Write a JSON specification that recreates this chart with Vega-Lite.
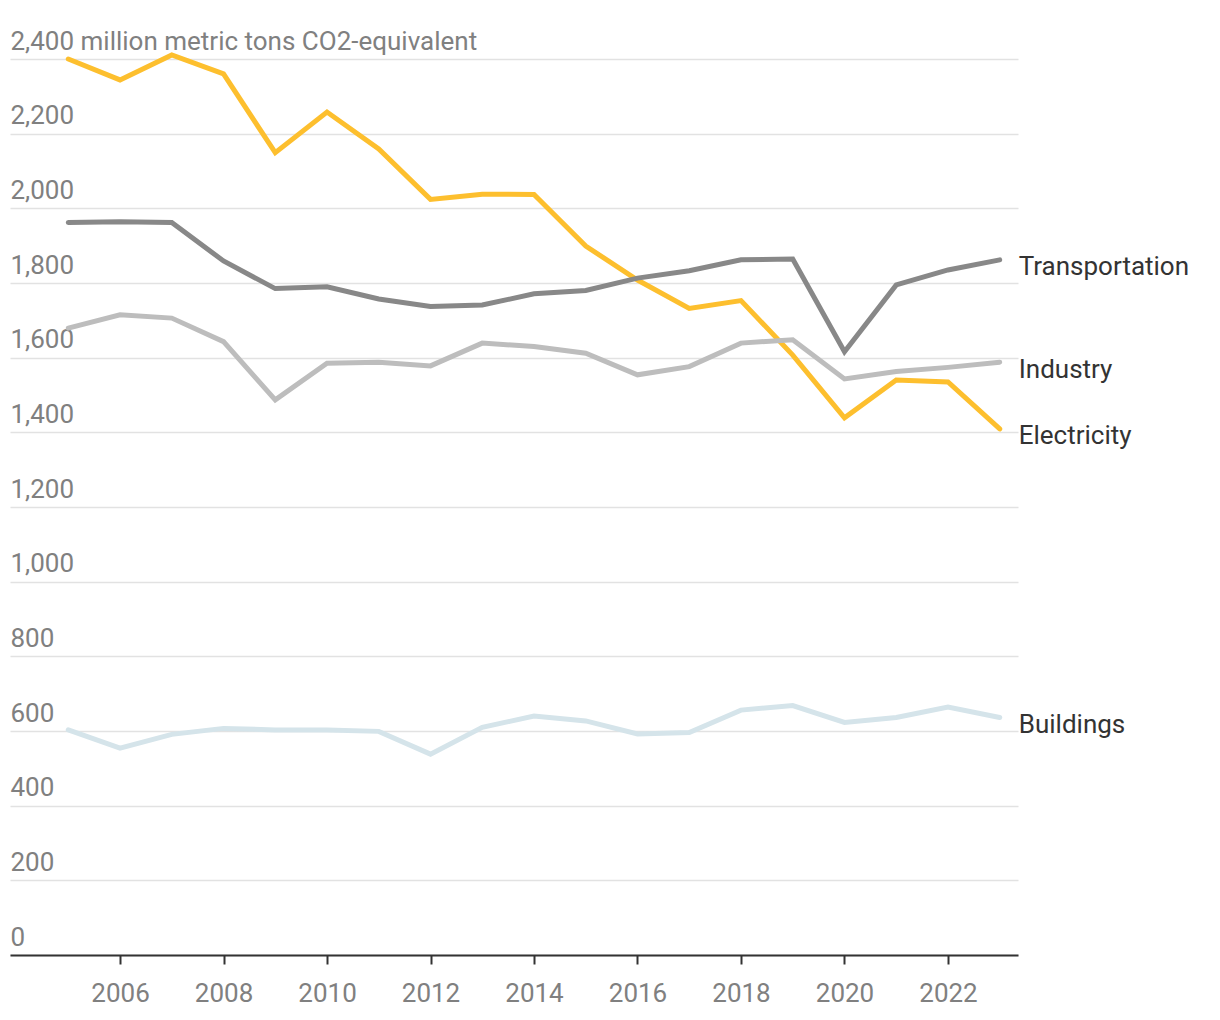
{
  "$schema": "https://vega.github.io/schema/vega-lite/v6.json",
  "autosize": {"type": "none"},
  "width": 1008,
  "height": 896,
  "padding": {"left": 10, "top": 59, "right": 202, "bottom": 65},
  "background": "white",
  "config": {"view": {"stroke": null}, "font": "Roboto"},
  "data": {"values": [
    {"year": 2005, "sector": "Electricity", "value": 2400},
    {"year": 2006, "sector": "Electricity", "value": 2344},
    {"year": 2007, "sector": "Electricity", "value": 2411},
    {"year": 2008, "sector": "Electricity", "value": 2360},
    {"year": 2009, "sector": "Electricity", "value": 2149},
    {"year": 2010, "sector": "Electricity", "value": 2258},
    {"year": 2011, "sector": "Electricity", "value": 2159},
    {"year": 2012, "sector": "Electricity", "value": 2024},
    {"year": 2013, "sector": "Electricity", "value": 2038},
    {"year": 2014, "sector": "Electricity", "value": 2037},
    {"year": 2015, "sector": "Electricity", "value": 1899},
    {"year": 2016, "sector": "Electricity", "value": 1808},
    {"year": 2017, "sector": "Electricity", "value": 1732},
    {"year": 2018, "sector": "Electricity", "value": 1753},
    {"year": 2019, "sector": "Electricity", "value": 1607},
    {"year": 2020, "sector": "Electricity", "value": 1439},
    {"year": 2021, "sector": "Electricity", "value": 1540},
    {"year": 2022, "sector": "Electricity", "value": 1535},
    {"year": 2023, "sector": "Electricity", "value": 1409},
    {"year": 2005, "sector": "Transportation", "value": 1962},
    {"year": 2006, "sector": "Transportation", "value": 1964},
    {"year": 2007, "sector": "Transportation", "value": 1962},
    {"year": 2008, "sector": "Transportation", "value": 1859},
    {"year": 2009, "sector": "Transportation", "value": 1785},
    {"year": 2010, "sector": "Transportation", "value": 1790},
    {"year": 2011, "sector": "Transportation", "value": 1757},
    {"year": 2012, "sector": "Transportation", "value": 1737},
    {"year": 2013, "sector": "Transportation", "value": 1741},
    {"year": 2014, "sector": "Transportation", "value": 1771},
    {"year": 2015, "sector": "Transportation", "value": 1780},
    {"year": 2016, "sector": "Transportation", "value": 1813},
    {"year": 2017, "sector": "Transportation", "value": 1833},
    {"year": 2018, "sector": "Transportation", "value": 1862},
    {"year": 2019, "sector": "Transportation", "value": 1864},
    {"year": 2020, "sector": "Transportation", "value": 1616},
    {"year": 2021, "sector": "Transportation", "value": 1795},
    {"year": 2022, "sector": "Transportation", "value": 1835},
    {"year": 2023, "sector": "Transportation", "value": 1862},
    {"year": 2005, "sector": "Industry", "value": 1679},
    {"year": 2006, "sector": "Industry", "value": 1715},
    {"year": 2007, "sector": "Industry", "value": 1706},
    {"year": 2008, "sector": "Industry", "value": 1643},
    {"year": 2009, "sector": "Industry", "value": 1487},
    {"year": 2010, "sector": "Industry", "value": 1585},
    {"year": 2011, "sector": "Industry", "value": 1588},
    {"year": 2012, "sector": "Industry", "value": 1578},
    {"year": 2013, "sector": "Industry", "value": 1639},
    {"year": 2014, "sector": "Industry", "value": 1630},
    {"year": 2015, "sector": "Industry", "value": 1612},
    {"year": 2016, "sector": "Industry", "value": 1554},
    {"year": 2017, "sector": "Industry", "value": 1576},
    {"year": 2018, "sector": "Industry", "value": 1639},
    {"year": 2019, "sector": "Industry", "value": 1648},
    {"year": 2020, "sector": "Industry", "value": 1543},
    {"year": 2021, "sector": "Industry", "value": 1563},
    {"year": 2022, "sector": "Industry", "value": 1574},
    {"year": 2023, "sector": "Industry", "value": 1588},
    {"year": 2005, "sector": "Buildings", "value": 603},
    {"year": 2006, "sector": "Buildings", "value": 554},
    {"year": 2007, "sector": "Buildings", "value": 591},
    {"year": 2008, "sector": "Buildings", "value": 607},
    {"year": 2009, "sector": "Buildings", "value": 603},
    {"year": 2010, "sector": "Buildings", "value": 603},
    {"year": 2011, "sector": "Buildings", "value": 599},
    {"year": 2012, "sector": "Buildings", "value": 538},
    {"year": 2013, "sector": "Buildings", "value": 610},
    {"year": 2014, "sector": "Buildings", "value": 640},
    {"year": 2015, "sector": "Buildings", "value": 627},
    {"year": 2016, "sector": "Buildings", "value": 592},
    {"year": 2017, "sector": "Buildings", "value": 596},
    {"year": 2018, "sector": "Buildings", "value": 656},
    {"year": 2019, "sector": "Buildings", "value": 668},
    {"year": 2020, "sector": "Buildings", "value": 623},
    {"year": 2021, "sector": "Buildings", "value": 636},
    {"year": 2022, "sector": "Buildings", "value": 664},
    {"year": 2023, "sector": "Buildings", "value": 636}
  ]},
  "encoding": {
    "x": {
      "field": "year", "type": "quantitative",
      "scale": {"domain": [2003.874, 2023.353], "nice": false, "zero": false},
      "axis": {
        "title": null,
        "values": [2006, 2008, 2010, 2012, 2014, 2016, 2018, 2020, 2022],
        "format": "d",
        "grid": false,
        "domainColor": "#333333", "domainWidth": 2,
        "tickColor": "#333333", "tickWidth": 2, "tickSize": 9,
        "labelFont": "Roboto", "labelFontSize": 26, "labelColor": "#808080",
        "labelPadding": 16
      }
    },
    "y": {
      "field": "value", "type": "quantitative",
      "scale": {"domain": [0, 2400], "nice": false},
      "axis": {
        "title": null,
        "values": [0, 200, 400, 600, 800, 1000, 1200, 1400, 1600, 1800, 2000, 2200, 2400],
        "labelExpr": "datum.value == 2400 ? datum.label + ' million metric tons CO2-equivalent' : datum.label",
        "domain": false, "ticks": false, "tickSize": 0,
        "grid": true, "gridColor": "#e2e2e2", "gridWidth": 1.5,
        "labelAlign": "left", "labelBaseline": "alphabetic",
        "labelPadding": 0, "labelOffset": -10,
        "labelLimit": 0, "labelOverlap": false, "labelBound": false,
        "labelFont": "Roboto", "labelFontSize": 26, "labelColor": "#808080"
      }
    }
  },
  "layer": [
    {
      "mark": {"type": "line", "strokeWidth": 5, "strokeCap": "round"},
      "encoding": {
        "color": {
          "field": "sector", "type": "nominal",
          "scale": {
            "domain": ["Buildings", "Industry", "Transportation", "Electricity"],
            "range": ["#d5e4ea", "#bdbdbd", "#888888", "#fdbf2e"]
          },
          "legend": null
        },
        "order": {"field": "year"},
        "detail": {"field": "sector"}
      }
    },
    {
      "transform": [{"filter": "datum.year == 2023"}],
      "mark": {"type": "text", "align": "left", "baseline": "alphabetic", "dx": 19, "dy": 15.5, "fontSize": 26, "font": "Roboto", "color": "#333333"},
      "encoding": {"text": {"field": "sector"}}
    }
  ]
}
